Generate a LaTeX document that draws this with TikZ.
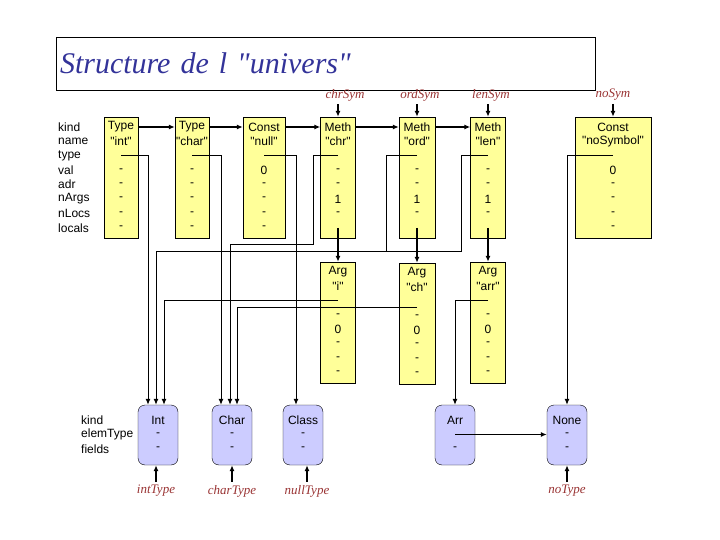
\documentclass[tikz,border=0pt]{standalone}
\usepackage{fontspec}
\setmainfont{Liberation Sans}[Ligatures=TeXOff]
\newfontfamily\serifit{Liberation Serif}[Ligatures=TeXOff]
\usetikzlibrary{positioning,arrows.meta}
\definecolor{symyellow}{HTML}{FFFF99}
\definecolor{structblue}{HTML}{CCCCFF}
\definecolor{labred}{HTML}{993333}
\definecolor{titleblue}{HTML}{333399}

\tikzset{
	symbox/.style={draw, fill=symyellow, minimum height=121pt, inner sep=0pt},
	structbox/.style={draw, fill=structblue, rounded corners=7pt, minimum width=40pt, minimum height=60pt, inner sep=0pt},
	cell/.style={inner sep=0pt, font=\fontsize{12}{14}\selectfont},
	rowlab/.style={cell, anchor=west},
	ptr/.style={inner sep=0pt, text=labred, font=\fontsize{13}{15}\serifit\itshape},
	link/.style={line width=1.6pt, -{Latex[length=6pt,width=5pt]}},
	tlink/.style={line width=1pt, -{Latex[length=6pt,width=5pt]}},
}

\newcommand{\SymBox}[5]{%
	\node[symbox, minimum width=#4] (#1) at ({#2},{#3+60.5}) {};
	\foreach \v [count=\i] in {#5}
		\node[cell] (#1-\i) at ({#2},{#3+10+14.4*(\i-1)}) {\v};
}
\newcommand{\StructBox}[3]{%
	\node[structbox] (#1) at ({#2},435) {};
	\foreach \v [count=\i] in {#3}
		\node[cell] (#1-\i) at ({#2},{405.5+14.5*\i}) {\v};
}

\begin{document}
\begin{tikzpicture}[x=1pt,y=-1pt]
	\useasboundingbox (0,0) rectangle (720,540);
	\node[draw, minimum width=539pt, minimum height=53pt, text width=531pt, inner sep=0pt, font=\fontsize{30}{32}\serifit\itshape, text=titleblue] (title) at (325.5,63.5) {Structure de l "univers"};

	\foreach \lab [count=\i] in {kind,name,type,val,adr,nArgs,nLocs,locals}
		\node[rowlab] (row\i) at (58,{112.6+14.4*\i}) {\lab};
	\foreach \lab [count=\i] in {kind,elemType,fields}
		\node[rowlab] (srow\i) at (81,{405.5+14.5*\i}) {\lab};

	\SymBox{typeint}{121}{117}{34pt}{Type,"int",{},-,-,-,-,-}
	\SymBox{typechar}{192}{117}{34pt}{Type,"char",{},-,-,-,-,-}
	\SymBox{constnull}{264}{117}{42pt}{Const,"null",{},0,-,-,-,-}
	\SymBox{methchr}{338}{117}{35pt}{Meth,"chr",{},-,-,1,-,{}}
	\SymBox{methord}{417}{117}{36pt}{Meth,"ord",{},-,-,1,-,{}}
	\SymBox{methlen}{488}{117}{35pt}{Meth,"len",{},-,-,1,-,{}}
	\SymBox{constnosym}{613}{117}{76pt}{Const,"noSymbol",{},0,-,-,-,-}
	\SymBox{argi}{338}{262}{35pt}{Arg,"i",{},-,0,-,-,-}
	\SymBox{argch}{417}{263}{36pt}{Arg,"ch",{},-,0,-,-,-}
	\SymBox{argarr}{488}{262}{35pt}{Arg,"arr",{},-,0,-,-,-}

	\StructBox{intstr}{158}{Int,-,-}
	\StructBox{charstr}{232}{Char,-,-}
	\StructBox{classstr}{303}{Class,-,-}
	\StructBox{arrstr}{455}{Arr,{},-}
	\StructBox{nonestr}{567}{None,-,-}

	\node[ptr] (chrsym) at (345,95) {chrSym};
	\node[ptr] (ordsym) at (420,95) {ordSym};
	\node[ptr] (lensym) at (491,95) {lenSym};
	\node[ptr] (nosym) at (613,95) {noSym};
	\node[ptr] (inttype) at (156,491) {intType};
	\node[ptr] (chartype) at (232,491) {charType};
	\node[ptr] (nulltype) at (307,491) {nullType};
	\node[ptr] (notype) at (567,491) {noType};

	\draw[link] ([yshift=-3pt]methchr.north |- chrsym.south) -- (methchr.north);
	\draw[link] ([yshift=-3pt]methord.north |- ordsym.south) -- (methord.north);
	\draw[link] ([yshift=-3pt]methlen.north |- lensym.south) -- (methlen.north);
	\draw[link] ([yshift=-3pt]constnosym.north |- nosym.south) -- (constnosym.north);
	\draw[link] ([yshift=3pt]inttype.north) -- (inttype |- intstr.south);
	\draw[link] ([yshift=3pt]chartype.north) -- (chartype |- charstr.south);
	\draw[link] ([yshift=3pt]nulltype.north) -- (nulltype |- classstr.south);
	\draw[link] ([yshift=3pt]notype.north) -- (notype |- nonestr.south);

	\draw[link] (typeint-1 -| typeint.east) -- (typeint-1 -| typechar.west);
	\draw[link] (typeint-1 -| typechar.east) -- (typeint-1 -| constnull.west);
	\draw[link] (typeint-1 -| constnull.east) -- (typeint-1 -| methchr.west);
	\draw[link] (typeint-1 -| methchr.east) -- (typeint-1 -| methord.west);
	\draw[link] (typeint-1 -| methord.east) -- (typeint-1 -| methlen.west);

	\draw[link] (methchr-8.center) -- (argi.north);
	\draw[link] (methord-8.center) -- (argch.north);
	\draw[link] (methlen-8.center) -- (argarr.north);

	\draw[tlink] (typeint-3.center) -| ([xshift=-10pt]intstr.north);
	\draw[tlink] (methord-3.center) -| (386,251) -| ([xshift=-2pt]intstr.north);
	\draw[line width=1pt] (methlen-3.center) -| (461,251) -- (386,251);
	\draw[tlink] (argi-3.center) -| ([xshift=6pt]intstr.north);
	\draw[tlink] (typechar-3.center) -| ([xshift=-11pt]charstr.north);
	\draw[tlink] (methchr-3.center) -| (313,244) -| ([xshift=-2pt]charstr.north);
	\draw[tlink] ([yshift=-6pt]argch-3.center) -| ([xshift=5pt]charstr.north);
	\draw[tlink] (constnull-3.center) -| ([xshift=-7pt]classstr.north);
	\draw[tlink] (argarr-3.center) -| (arrstr.north);
	\draw[tlink] (constnosym-3.center) -| (nonestr.north);
	\draw[link] (arrstr-2.center) -- (nonestr.west |- arrstr-2);
\end{tikzpicture}
\end{document}
